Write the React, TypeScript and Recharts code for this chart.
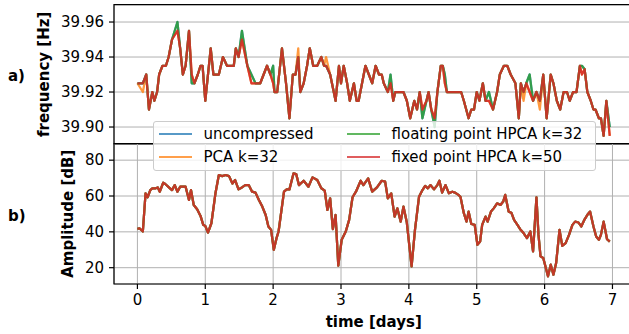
import { LineChart, Line, XAxis, YAxis, CartesianGrid, ReferenceArea } from 'recharts'

// shared time axis (days)
const xTicks = [0, 1, 2, 3, 4, 5, 6, 7]
const xDomain: [number, number] = [-0.345, 7.31]

// a) frequency [Hz]
const freqTicks = [39.9, 39.92, 39.94, 39.96]
const freqDomain: [number, number] = [39.8903, 39.9699]

const freqTime = [
  0.0, 0.08, 0.13, 0.17, 0.22, 0.25, 0.29, 0.32, 0.37, 0.42, 0.46, 0.51, 0.59, 0.63, 0.67, 0.71,
  0.76, 0.8, 0.84, 0.89, 0.93, 0.96, 1.0, 1.04, 1.08, 1.12, 1.16, 1.2, 1.26, 1.32, 1.39, 1.42,
  1.45, 1.49, 1.54, 1.62, 1.68, 1.74, 1.81, 1.91, 1.96, 2.0, 2.02, 2.06, 2.13, 2.19, 2.24, 2.29,
  2.33, 2.37, 2.4, 2.45, 2.5, 2.54, 2.59, 2.65, 2.71, 2.75, 2.78, 2.84, 2.92, 2.97, 3.0, 3.04,
  3.09, 3.13, 3.19, 3.23, 3.26, 3.31, 3.36, 3.41, 3.46, 3.51, 3.56, 3.6, 3.63, 3.69, 3.73, 3.77,
  3.8, 3.86, 3.92, 3.97, 4.02, 4.08, 4.12, 4.16, 4.2, 4.26, 4.29, 4.33, 4.38, 4.42, 4.47, 4.5,
  4.53, 4.56, 4.61, 4.7, 4.77, 4.81, 4.88, 4.92, 4.96, 5.0, 5.04, 5.09, 5.13, 5.18, 5.24, 5.3,
  5.34, 5.4, 5.45, 5.5, 5.57, 5.62, 5.65, 5.69, 5.73, 5.78, 5.83, 5.88, 5.93, 5.98, 6.03, 6.09,
  6.13, 6.18, 6.23, 6.28, 6.33, 6.37, 6.42, 6.47, 6.52, 6.55, 6.59, 6.63, 6.68, 6.72, 6.75, 6.8,
  6.83, 6.87, 6.91, 6.96,
]

const freqFixed = [
  39.925, 39.925, 39.93, 39.91, 39.92, 39.915, 39.92, 39.93, 39.935, 39.935, 39.94, 39.95, 39.955, 39.945, 39.93, 39.935,
  39.955, 39.93, 39.925, 39.93, 39.935, 39.935, 39.915, 39.93, 39.945, 39.93, 39.93, 39.93, 39.94, 39.935, 39.935, 39.935,
  39.945, 39.94, 39.95, 39.935, 39.925, 39.925, 39.925, 39.935, 39.93, 39.925, 39.92, 39.92, 39.945, 39.925, 39.905, 39.93,
  39.93, 39.94, 39.92, 39.925, 39.935, 39.945, 39.935, 39.935, 39.94, 39.935, 39.935, 39.93, 39.915, 39.935, 39.925, 39.935,
  39.925, 39.915, 39.925, 39.915, 39.915, 39.925, 39.935, 39.93, 39.925, 39.935, 39.93, 39.93, 39.925, 39.92, 39.925, 39.915,
  39.92, 39.92, 39.92, 39.915, 39.905, 39.915, 39.91, 39.92, 39.91, 39.915, 39.92, 39.91, 39.905, 39.92, 39.935, 39.935,
  39.925, 39.92, 39.92, 39.92, 39.92, 39.915, 39.905, 39.91, 39.91, 39.92, 39.915, 39.925, 39.915, 39.915, 39.91, 39.92,
  39.93, 39.935, 39.935, 39.93, 39.925, 39.905, 39.925, 39.92, 39.925, 39.92, 39.915, 39.92, 39.915, 39.93, 39.905, 39.93,
  39.925, 39.915, 39.91, 39.92, 39.92, 39.915, 39.92, 39.92, 39.935, 39.93, 39.933, 39.92, 39.915, 39.91, 39.91, 39.905,
  39.905, 39.895, 39.915, 39.895,
]

// points where the other series leave the fixed point curve (index -> value)
const freqFloatEdits: Record<number, number> = {
  12: 39.96, 17: 39.925, 34: 39.955, 36: 39.93, 41: 39.935, 78: 39.93, 88: 39.905,
  92: 39.9, 96: 39.93, 109: 39.92, 121: 39.93, 137: 39.935, 147: 39.9,
}
const freqPcaEdits: Record<number, number> = {
  1: 39.92, 49: 39.945, 58: 39.94, 119: 39.915, 124: 39.91,
}

// b) Amplitude [dB]
const ampTicks = [20, 40, 60, 80]
const ampDomain: [number, number] = [10.9, 89.3]

const ampTime = [
  0.0, 0.03, 0.08, 0.12, 0.15, 0.19, 0.22, 0.27, 0.3, 0.33, 0.38, 0.41, 0.48, 0.51, 0.55, 0.59,
  0.63, 0.68, 0.71, 0.76, 0.79, 0.83, 0.88, 0.93, 0.97, 1.0, 1.04, 1.09, 1.15, 1.2, 1.25, 1.3,
  1.35, 1.4, 1.44, 1.49, 1.54, 1.59, 1.64, 1.69, 1.74, 1.79, 1.84, 1.89, 1.93, 1.97, 2.01, 2.05,
  2.08, 2.16, 2.2, 2.24, 2.3, 2.34, 2.38, 2.45, 2.52, 2.58, 2.65, 2.71, 2.76, 2.8, 2.84, 2.88,
  2.92, 2.96, 3.01, 3.07, 3.12, 3.17, 3.22, 3.29, 3.33, 3.4, 3.46, 3.53, 3.6, 3.65, 3.69, 3.74,
  3.79, 3.83, 3.88, 3.92, 3.97, 4.04, 4.09, 4.15, 4.2, 4.24, 4.28, 4.32, 4.37, 4.42, 4.45, 4.49,
  4.54, 4.59, 4.64, 4.68, 4.73, 4.76, 4.81, 4.85, 4.88, 4.92, 4.97, 5.01, 5.05, 5.08, 5.13, 5.16,
  5.21, 5.25, 5.3, 5.35, 5.39, 5.42, 5.47, 5.51, 5.55, 5.6, 5.64, 5.69, 5.74, 5.79, 5.83, 5.88,
  5.91, 5.94, 5.98, 6.01, 6.05, 6.09, 6.13, 6.17, 6.22, 6.26, 6.31, 6.36, 6.41, 6.45, 6.5, 6.54,
  6.59, 6.64, 6.67, 6.72, 6.76, 6.8, 6.83, 6.87, 6.92, 6.96,
]

const ampValues = [
  41.7, 42, 40.2, 61.5, 59.3, 63.3, 64.3, 64.3, 64.8, 62.4, 67.4, 66.7, 64.3, 63.3, 66.1, 62.4,
  65.2, 65.2, 65.2, 57.8, 63.3, 55, 52.6, 48.9, 43.9, 43.3, 39.6, 44.8, 61.5, 71.7, 71.1, 71.7,
  71.1, 67, 68.9, 63.7, 64.8, 66.1, 66.1, 62.4, 61.9, 57.8, 54.1, 49.4, 43, 41.1, 30, 36.5,
  40.2, 62.4, 63.7, 63.7, 72.6, 72.2, 66.1, 68.5, 65.2, 70.4, 68.9, 64.3, 63, 52.2, 58.7, 41.5,
  49.4, 21.1, 35.6, 40.2, 46.7, 59.3, 62.4, 68.5, 66.1, 69.8, 62.4, 64.8, 68.5, 68, 58.7, 61.5,
  48.5, 53.1, 45.7, 54.1, 45.2, 20.7, 41.1, 59.6, 63.3, 65.6, 64.3, 66.1, 63.7, 66.1, 68.5, 61.9,
  66.1, 61.5, 62.4, 61.9, 60.6, 59.6, 50.4, 45.7, 51.3, 44.4, 43.9, 32.8, 34.6, 43.9, 48.5, 45.7,
  51.3, 53.1, 55.9, 55, 56.9, 60.6, 51.3, 50.7, 46.7, 43.9, 41.5, 39.3, 36.5, 40.2, 29.1, 59.3,
  38.3, 26.3, 25.4, 21.1, 15.2, 21.7, 16.1, 22.6, 41.1, 32.2, 33.7, 38.3, 43.9, 45.7, 45.2, 43,
  47, 50, 51.3, 43, 37.4, 35.6, 38.3, 45.7, 35.9, 34.6,
]

const series = [
  { key: 'uncompressed', name: 'uncompressed', color: '#1f77b4', opacity: 0.8 },
  { key: 'pca', name: 'PCA k=32', color: '#ff7f0e', opacity: 0.8 },
  { key: 'floating', name: 'floating point HPCA k=32', color: '#2ca02c', opacity: 0.8 },
  { key: 'fixed', name: 'fixed point HPCA k=50', color: '#d62728', opacity: 0.85 },
]

const freqData = freqTime.map((t, i) => {
  const fixed = freqFixed[i]
  const floating = freqFloatEdits[i] ?? fixed
  return {
    t,
    uncompressed: floating,
    pca: freqPcaEdits[i] ?? fixed,
    floating,
    fixed,
  }
})

const ampData = ampTime.map((t, i) => ({
  t,
  uncompressed: ampValues[i],
  pca: ampValues[i],
  floating: ampValues[i],
  fixed: ampValues[i],
}))

const FONT = 'DejaVu Sans, sans-serif'
const tickStyle = { fill: '#000', fontSize: 15, fontFamily: FONT }
const labelStyle = { fill: '#000', fontSize: 15, fontWeight: 'bold', fontFamily: FONT, textAnchor: 'middle' }

function renderLines() {
  return series.map((s) => (
    <Line
      key={s.key}
      dataKey={s.key}
      type="linear"
      stroke={s.color}
      strokeWidth={2.25}
      strokeOpacity={s.opacity}
      strokeLinejoin="round"
      dot={false}
      activeDot={false}
      isAnimationActive={false}
    />
  ))
}

function Legend() {
  return (
    <div
      style={{
        position: 'absolute',
        left: 152.5,
        top: 121,
        width: 441,
        height: 48,
        border: '1px solid #cccccc',
        borderRadius: 3,
        background: 'rgba(255,255,255,0.8)',
        fontFamily: FONT,
        fontSize: 15,
        color: '#000',
      }}
    >
      {series.map((s, i) => {
        const col = Math.floor(i / 2)
        const row = i % 2
        const left = col === 0 ? 5 : 193
        const top = row === 0 ? 12 : 35
        return (
          <div key={s.key} style={{ position: 'absolute', left, top: top - 10, height: 20, whiteSpace: 'nowrap' }}>
            <div
              style={{
                position: 'absolute',
                left: 0,
                top: 9,
                width: 33,
                height: 2.25,
                background: s.color,
                opacity: 0.75,
              }}
            />
            <span style={{ position: 'absolute', left: 45, top: 0, lineHeight: '20px' }}>{s.name}</span>
          </div>
        )
      })}
    </div>
  )
}

export default function App() {
  return (
    <div
      style={{
        position: 'absolute',
        left: 0,
        top: 0,
        width: 629,
        height: 334,
        overflow: 'hidden',
        background: '#fff',
        fontFamily: FONT,
      }}
    >
      <div style={{ position: 'absolute', left: 0, top: 0 }}>
        <LineChart width={640} height={150} data={freqData} margin={{ top: 4.7, right: 6.5, bottom: 6, left: 0 }}>
          <CartesianGrid stroke="#b0b0b0" strokeWidth={1} />
          <XAxis
            dataKey="t"
            type="number"
            domain={xDomain}
            ticks={xTicks}
            allowDataOverflow
            height={0}
            tick={false}
            tickLine={false}
            axisLine={false}
          />
          <YAxis
            type="number"
            domain={freqDomain}
            ticks={freqTicks}
            allowDataOverflow
            width={114}
            tickFormatter={(v: number) => v.toFixed(2)}
            tick={tickStyle}
            tickSize={5}
            tickMargin={5}
            tickLine={{ stroke: '#000', strokeWidth: 1.2 }}
            axisLine={false}
            label={{ value: 'frequency [Hz]', angle: -90, position: 'insideLeft', offset: 43.5, style: labelStyle }}
          />
          {renderLines()}
          <ReferenceArea
            x1={xDomain[0]}
            x2={xDomain[1]}
            y1={freqDomain[0]}
            y2={freqDomain[1]}
            fill="none"
            stroke="#000"
            strokeWidth={1.2}
            ifOverflow="visible"
          />
        </LineChart>
      </div>
      <div style={{ position: 'absolute', left: 0, top: 0 }}>
        <LineChart width={640} height={334} data={ampData} margin={{ top: 143.5, right: 6.5, bottom: 0, left: 0 }}>
          <CartesianGrid stroke="#b0b0b0" strokeWidth={1} />
          <XAxis
            dataKey="t"
            type="number"
            domain={xDomain}
            ticks={xTicks}
            allowDataOverflow
            height={50}
            tick={tickStyle}
            tickSize={5}
            tickMargin={5}
            tickLine={{ stroke: '#000', strokeWidth: 1.2 }}
            axisLine={false}
            label={{ value: 'time [days]', position: 'insideBottom', offset: 7, style: labelStyle }}
          />
          <YAxis
            type="number"
            domain={ampDomain}
            ticks={ampTicks}
            allowDataOverflow
            width={114}
            tick={tickStyle}
            tickSize={5}
            tickMargin={5}
            tickLine={{ stroke: '#000', strokeWidth: 1.2 }}
            axisLine={false}
            label={{ value: 'Amplitude [dB]', angle: -90, position: 'insideLeft', offset: 68, style: labelStyle }}
          />
          {renderLines()}
          <ReferenceArea
            x1={xDomain[0]}
            x2={xDomain[1]}
            y1={ampDomain[0]}
            y2={ampDomain[1]}
            fill="none"
            stroke="#000"
            strokeWidth={1.2}
            ifOverflow="visible"
          />
        </LineChart>
      </div>
      <Legend />
      <div style={{ position: 'absolute', left: 8, top: 66, fontSize: 15, fontWeight: 'bold', lineHeight: '20px' }}>a)</div>
      <div style={{ position: 'absolute', left: 8, top: 206, fontSize: 15, fontWeight: 'bold', lineHeight: '20px' }}>b)</div>
    </div>
  )
}
